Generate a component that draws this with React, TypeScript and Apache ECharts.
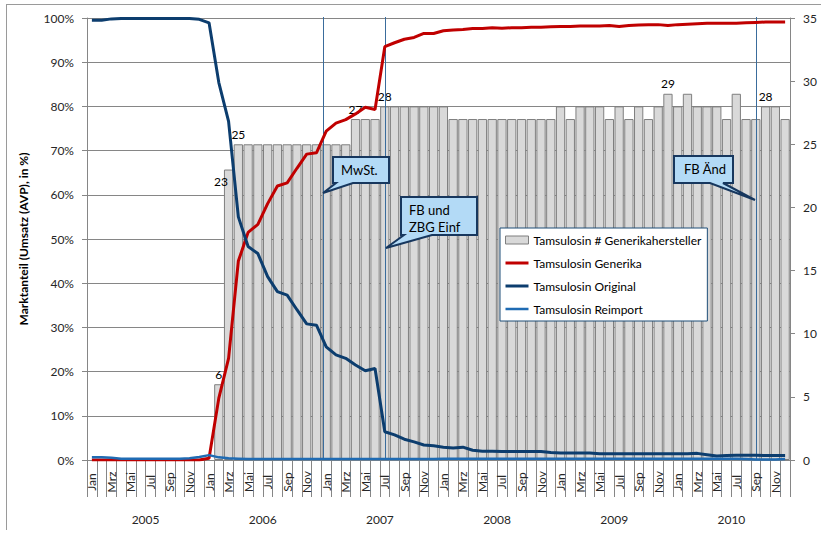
import { useEffect, useRef } from "react";
import * as echarts from "echarts";

// Monthly categories Jan 2005 – Dez 2010
const MONTHS = ["Jan", "Feb", "Mrz", "Apr", "Mai", "Jun", "Jul", "Aug", "Sep", "Okt", "Nov", "Dez"];
const YEARS = ["2005", "2006", "2007", "2008", "2009", "2010"];
const monthCategories = YEARS.flatMap(() => MONTHS);

// Anzahl Generikahersteller (rechte Achse)
const generikaHersteller = [
  null, null, null, null, null, null, null, null, null, null, null, null,
  null, 6, 23, 25, 25, 25, 25, 25, 25, 25, 25, 25,
  25, 25, 25, 27, 27, 27, 28, 28, 28, 28, 28, 28,
  28, 27, 27, 27, 27, 27, 27, 27, 27, 27, 27, 27,
  28, 27, 28, 28, 28, 27, 28, 27, 28, 27, 28, 29,
  28, 29, 28, 28, 28, 27, 29, 27, 27, 28, 28, 27,
];

// Marktanteile in %
const generikaAnteil = [
  0, 0, 0, 0, 0, 0, 0, 0, 0, 0, 0, 0,
  0.4, 14, 23, 45, 51.5, 53.3, 58, 62, 62.7, 66, 69.2, 69.5,
  74.4, 76.2, 77, 78.3, 79.8, 79.3, 93.5, 94.4, 95.2, 95.6, 96.5, 96.5,
  97.1, 97.3, 97.4, 97.6, 97.6, 97.8, 97.7, 97.8, 97.8, 97.9, 97.9, 98.0,
  98.1, 98.1, 98.2, 98.2, 98.2, 98.3, 98.1, 98.3, 98.4, 98.5, 98.5, 98.3,
  98.5, 98.6, 98.7, 98.8, 98.8, 98.8, 98.8, 98.9, 99.0, 99.1, 99.1, 99.1,
];

const originalAnteil = [
  99.5, 99.5, 99.8, 99.9, 99.9, 99.9, 99.9, 99.9, 99.9, 99.9, 99.9, 99.7,
  98.9, 85.4, 76.6, 55, 48.3, 46.7, 41.5, 38.1, 37.3, 34, 30.8, 30.5,
  25.6, 23.8, 23, 21.5, 20.2, 20.7, 6.4, 5.7, 4.7, 4.1, 3.4, 3.2,
  2.9, 2.7, 2.9, 2.2, 2.0, 2.0, 1.9, 1.9, 1.9, 1.9, 1.9, 1.7,
  1.6, 1.6, 1.6, 1.6, 1.4, 1.4, 1.4, 1.4, 1.4, 1.4, 1.4, 1.4,
  1.4, 1.4, 1.5, 1.2, 0.9, 1.0, 1.1, 1.1, 1.1, 1.0, 1.0, 1.0,
];

const reimportAnteil = [
  0.6, 0.6, 0.5, 0.3, 0.3, 0.3, 0.3, 0.3, 0.3, 0.3, 0.4, 0.7,
  1.1, 0.6, 0.4, 0.3, 0.2, 0.2, 0.2, 0.2, 0.2, 0.2, 0.2, 0.2,
  0.2, 0.2, 0.2, 0.2, 0.2, 0.2, 0.2, 0.2, 0.2, 0.2, 0.2, 0.2,
  0.3, 0.3, 0.3, 0.3, 0.3, 0.3, 0.3, 0.3, 0.3, 0.3, 0.3, 0.3,
  0.3, 0.3, 0.3, 0.3, 0.3, 0.3, 0.3, 0.3, 0.3, 0.3, 0.3, 0.3,
  0.3, 0.3, 0.3, 0.3, 0.3, 0.3, 0.3, 0.2, 0.1, 0.1, 0.1, 0.2,
];

// Bars that carry their value as a label (month index)
const labelledMonths = [13, 14, 15, 27, 30, 59, 69];

// Events: month index (fractional = position inside the month)
const eventMonths = [23.63, 30, 68];

const SERIES_NAMES = [
  "Tamsulosin # Generikahersteller",
  "Tamsulosin Generika",
  "Tamsulosin Original",
  "Tamsulosin Reimport",
];

const COLORS = {
  bar: "#d9d9d9",
  barBorder: "#7f7f7f",
  generika: "#c00000",
  original: "#0c3d6e",
  reimport: "#1f6bb3",
};

const FONT = "Lato";
const AXIS_GRAY = "#868686";
const TEXT = "#262626";

function calloutPoints(
  x: number, y: number, w: number, h: number,
  baseL: number, baseR: number, tipX: number, tipY: number
) {
  return [
    [x, y], [x + w, y], [x + w, y + h], [baseR, y + h],
    [tipX, tipY], [baseL, y + h], [x, y + h],
  ];
}

export default function App() {
  const ref = useRef<HTMLDivElement>(null);

  useEffect(() => {
    if (!ref.current) return;
    const chart = echarts.init(ref.current, null, { renderer: "svg" });

    const barData = generikaHersteller.map((v, i) => {
      if (v == null || !labelledMonths.includes(i)) return v;
      const label: any = {
        show: true,
        fontFamily: FONT,
        fontSize: 12,
        color: "#000",
      };
      if (i === 14) {
        label.position = [-3, 12];
        label.align = "center";
        label.verticalAlign = "middle";
      } else {
        label.position = "top";
        label.distance = 4;
      }
      return { value: v, label };
    });

    const lineIcon = (color: string, width: number) => ({
      icon: "line",
      itemStyle: { color, borderColor: color, borderWidth: width },
    });

    const option: any = {
      animation: false,
      textStyle: { fontFamily: FONT },
      grid: { left: 87, right: 31, top: 18, bottom: 75 },
      legend: {
        orient: "vertical",
        left: 500,
        top: 228,
        backgroundColor: "#fff",
        borderColor: "#1f4e79",
        borderWidth: 1,
        borderRadius: 0,
        padding: [5, 6, 5, 4],
        itemGap: 9,
        itemWidth: 23,
        itemHeight: 8,
        selectedMode: false,
        textStyle: { fontFamily: FONT, fontSize: 12, color: "#000", lineHeight: 14 },
        data: [
          {
            name: SERIES_NAMES[0],
            icon: "rect",
            itemStyle: { color: COLORS.bar, borderColor: COLORS.barBorder, borderWidth: 1 },
          },
          { name: SERIES_NAMES[1], ...lineIcon(COLORS.generika, 3) },
          { name: SERIES_NAMES[2], ...lineIcon(COLORS.original, 3) },
          { name: SERIES_NAMES[3], ...lineIcon(COLORS.reimport, 2.5) },
        ],
      },
      xAxis: [
        {
          type: "category",
          data: monthCategories,
          boundaryGap: true,
          axisLine: { show: true, lineStyle: { color: AXIS_GRAY } },
          axisTick: { show: true, interval: 0, length: 37, lineStyle: { color: AXIS_GRAY } },
          axisLabel: {
            interval: 1,
            rotate: 90,
            align: "center",
            verticalAlign: "middle",
            margin: 22,
            fontFamily: FONT,
            fontSize: 12,
            color: TEXT,
          },
          splitLine: { show: false },
        },
        {
          type: "category",
          data: YEARS,
          position: "bottom",
          offset: 37,
          boundaryGap: true,
          axisLine: { show: false },
          axisTick: { show: true, interval: 0, length: 33, lineStyle: { color: AXIS_GRAY } },
          axisLabel: { interval: 0, margin: 16, fontFamily: FONT, fontSize: 12, color: TEXT },
          splitLine: { show: false },
        },
      ],
      yAxis: [
        {
          type: "value",
          position: "left",
          min: 0,
          max: 100,
          interval: 10,
          name: "Marktanteil (Umsatz (AVP), in %)",
          nameLocation: "middle",
          nameGap: 58,
          nameRotate: 90,
          nameTextStyle: { fontFamily: FONT, fontWeight: "bold", fontSize: 12, color: "#000" },
          axisLine: { show: true, lineStyle: { color: AXIS_GRAY } },
          axisTick: { show: true, length: 5, lineStyle: { color: AXIS_GRAY } },
          axisLabel: { formatter: "{value}%", margin: 13, fontFamily: FONT, fontSize: 12, color: TEXT },
          splitLine: { show: true, lineStyle: { color: AXIS_GRAY, width: 1 } },
        },
        {
          type: "value",
          position: "right",
          min: 0,
          max: 35,
          interval: 5,
          axisLine: { show: true, lineStyle: { color: AXIS_GRAY } },
          axisTick: { show: true, length: 5, lineStyle: { color: AXIS_GRAY } },
          axisLabel: { margin: 13, fontFamily: FONT, fontSize: 12, color: TEXT },
          splitLine: { show: false },
        },
      ],
      series: [
        {
          name: SERIES_NAMES[0],
          type: "bar",
          yAxisIndex: 1,
          data: barData,
          barCategoryGap: "5%",
          itemStyle: { color: COLORS.bar, borderColor: COLORS.barBorder, borderWidth: 1 },
          z: 1,
        },
        {
          name: SERIES_NAMES[1],
          type: "line",
          yAxisIndex: 0,
          data: generikaAnteil,
          symbol: "none",
          lineStyle: { color: COLORS.generika, width: 3 },
          itemStyle: { color: COLORS.generika },
          z: 3,
        },
        {
          name: SERIES_NAMES[2],
          type: "line",
          yAxisIndex: 0,
          data: originalAnteil,
          symbol: "none",
          lineStyle: { color: COLORS.original, width: 3 },
          itemStyle: { color: COLORS.original },
          z: 3,
        },
        {
          name: SERIES_NAMES[3],
          type: "line",
          yAxisIndex: 0,
          data: reimportAnteil,
          symbol: "none",
          lineStyle: { color: COLORS.reimport, width: 2.5 },
          itemStyle: { color: COLORS.reimport },
          z: 3,
        },
      ],
    };

    chart.setOption(option);

    // Event lines placed through the category scale
    const xAt = (m: number) => {
      const i = Math.floor(m);
      const a = chart.convertToPixel({ xAxisIndex: 0 }, i) as number;
      const b = chart.convertToPixel({ xAxisIndex: 0 }, i + 1) as number;
      return a + (m - i) * (b - a);
    };
    const yTop = chart.convertToPixel({ yAxisIndex: 0 }, 100) as number;
    const yBottom = chart.convertToPixel({ yAxisIndex: 0 }, 0) as number;

    const eventLines = eventMonths.map((m) => {
      const x = Math.round(xAt(m)) + 0.5;
      return {
        type: "line",
        z: 2,
        shape: { x1: x, y1: yTop - 1, x2: x, y2: yBottom },
        style: { stroke: "#3a6c9c", lineWidth: 1 },
      };
    });

    const calloutStyle = { fill: "#b3daf6", stroke: "#17375e", lineWidth: 2, lineJoin: "miter" };
    const calloutText = { font: `13px ${FONT}`, fill: "#000" };

    const callouts = [
      {
        type: "polygon",
        z: 50,
        shape: { points: calloutPoints(333, 157, 56, 26, 336, 353, 323, 193) },
        style: calloutStyle,
      },
      {
        type: "text",
        z: 51,
        style: { ...calloutText, text: "MwSt.", x: 341, y: 170, verticalAlign: "middle" },
      },
      {
        type: "polygon",
        z: 50,
        shape: { points: calloutPoints(401, 197, 76, 38, 404, 432, 386, 248) },
        style: calloutStyle,
      },
      {
        type: "text",
        z: 51,
        style: { ...calloutText, text: "FB und", x: 409, y: 210, verticalAlign: "middle" },
      },
      {
        type: "text",
        z: 51,
        style: { ...calloutText, text: "ZBG Einf", x: 409, y: 227, verticalAlign: "middle" },
      },
      {
        type: "polygon",
        z: 50,
        shape: { points: calloutPoints(674, 156, 59, 27, 710, 723, 755, 200) },
        style: calloutStyle,
      },
      {
        type: "text",
        z: 51,
        style: { ...calloutText, text: "FB Änd", x: 684, y: 169, verticalAlign: "middle" },
      },
    ];

    const frame = [
      { type: "line", z: 0, shape: { x1: 7, y1: 4.5, x2: 821, y2: 4.5 }, style: { stroke: "#9a9a9a", lineWidth: 1 } },
      { type: "line", z: 0, shape: { x1: 6.5, y1: 4, x2: 6.5, y2: 530 }, style: { stroke: "#9a9a9a", lineWidth: 1 } },
    ];

    chart.setOption({ graphic: [...frame, ...eventLines, ...callouts] });

    return () => chart.dispose();
  }, []);

  return (
    <div
      ref={ref}
      style={{ position: "fixed", left: 0, top: 0, width: 821, height: 535, background: "#fff" }}
    />
  );
}
